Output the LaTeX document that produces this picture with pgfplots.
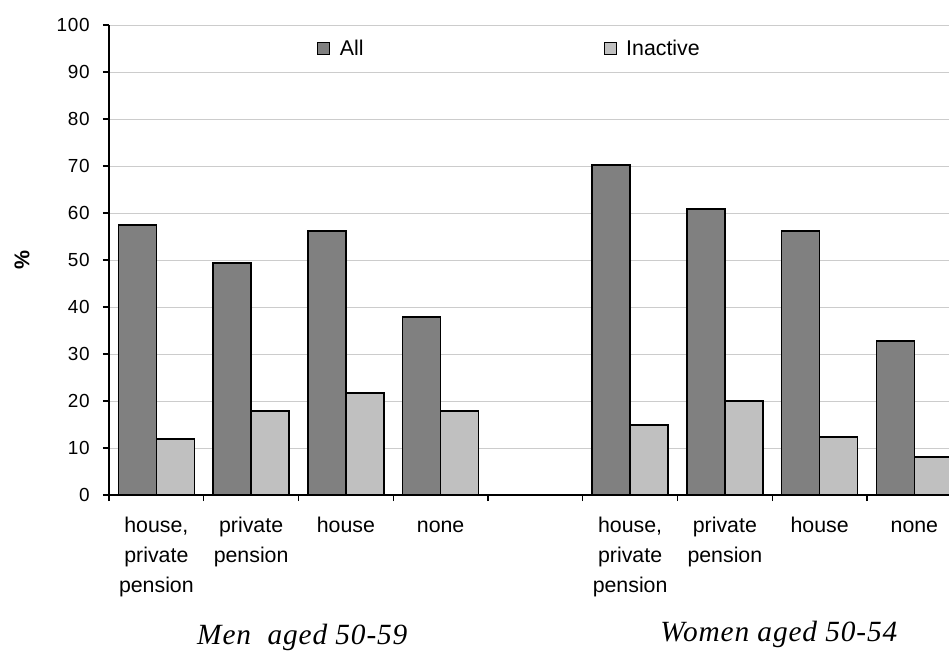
\documentclass[border=0pt]{standalone}
\usepackage{pgfplots}
\pgfplotsset{compat=1.18}
\usepackage{fontspec}
\setmainfont{Liberation Sans}
\newfontfamily\numfont{Liberation Sans}[LetterSpace=4]
\newfontfamily\grpfont{Liberation Serif}[LetterSpace=3]
\definecolor{allbar}{HTML}{808080}
\definecolor{inactbar}{HTML}{C0C0C0}
\definecolor{gridc}{HTML}{CCCCCC}
\pgfplotsset{
  boxlegend/.style={legend image code/.code={%
    \draw[##1,line width=0.8pt] (0pt,-4.5pt) rectangle (9pt,4.5pt);
    \path (14pt,0pt);}},
}
\begin{document}
\begin{tikzpicture}
\useasboundingbox (0,0) rectangle (711.75pt,489.75pt);
\begin{axis}[
  at={(81.75pt,118.5pt)}, anchor=south west,
  scale only axis, width=639.56pt, height=352.5pt,
  xmin=-0.5, xmax=8.5, ymin=0, ymax=100,
  ybar=0pt, bar width=0.4,
  axis lines*=left,
  axis line style={line width=0.8pt},
  clip=false,
  tick align=outside, major tick length=4.5pt,
  tick style={black, line width=0.8pt},
  xtick={-0.5,0.5,...,8.5},
  x tick label as interval,
  xticklabels={{house,\\private\\pension},{private\\pension},house,{\vphantom{h}none},{},{house,\\private\\pension},{private\\pension},house,{\vphantom{h}none}},
  xticklabel style={align=center, yshift=-8.5pt, font=\fontsize{16}{22.5}\selectfont},
  ytick={0,10,...,100},
  yticklabel style={xshift=-6.5pt, font=\numfont\fontsize{14.2}{16}\selectfont},
  ymajorgrids, grid style={gridc, line width=0.7pt},
  /pgf/number format/assume math mode=true,
  ylabel={\textbf{\%}},
  ylabel style={at={(axis description cs:-0.102,0.5)}, anchor=center, font=\fontsize{16}{18}\selectfont},
  legend style={at={(axis description cs:0.244,0.949)}, anchor=west, draw=none, fill=none,
    inner sep=0pt, font=\fontsize{16}{18}\selectfont,
    /tikz/every even column/.append style={column sep=178pt}},
  legend columns=2,
]
\addplot[fill=allbar, draw=black, line width=1.1pt, boxlegend] coordinates {
  (0,57.4) (1,49.4) (2,56.2) (3,37.9)
  (5,70.2) (6,60.9) (7,56.2) (8,32.8)};
\addplot[fill=inactbar, draw=black, line width=1.1pt, boxlegend] coordinates {
  (0,11.9) (1,17.9) (2,21.7) (3,17.9)
  (5,14.9) (6,20.0) (7,12.3) (8,8.1)};
\legend{All, Inactive}
\node[anchor=base, font=\grpfont\itshape\fontsize{22}{26}\selectfont] at (axis cs:1.54,-31.9) {Men\ \ aged 50-59};
\node[anchor=base, font=\grpfont\itshape\fontsize{22}{26}\selectfont] at (axis cs:6.57,-31.2) {Women aged 50-54};
\end{axis}
\end{tikzpicture}
\end{document}
